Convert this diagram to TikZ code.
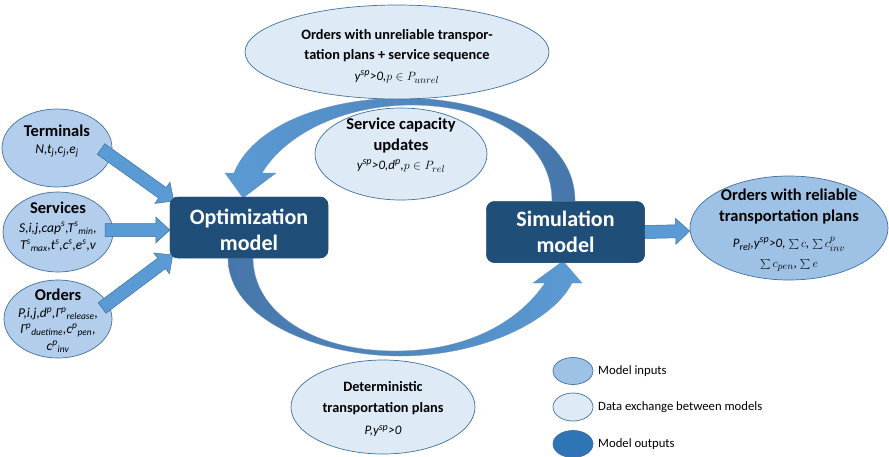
\documentclass[tikz,border=0pt]{standalone}
\usepackage{fontspec}
\setmainfont{Carlito}
\usetikzlibrary{calc,shapes.geometric}
\DeclareMathSizes{13}{13}{10}{8}

\definecolor{navy}{HTML}{1F4E79}
\definecolor{edgeblue}{HTML}{41719C}
\definecolor{inpfill}{HTML}{B2CEEC}
\definecolor{outfill}{HTML}{9EC2E6}
\definecolor{xfill}{HTML}{DEEBF7}
\definecolor{arrowblue}{HTML}{5B9BD5}
\definecolor{arrowdark}{HTML}{4676AA}
\definecolor{legout}{HTML}{2E75B6}

\newcommand\blkarrow[2]{%
  \coordinate (hb) at ($(#2)!14pt!(#1)$);
  \fill[arrowblue, draw=edgeblue, line width=0.5pt]
    ($(#1)!6.5pt!90:(#2)$) -- ($(hb)!6.5pt!90:(#2)$) -- ($(hb)!13pt!90:(#2)$)
    -- (#2) -- ($(hb)!13pt!-90:(#2)$) -- ($(hb)!6.5pt!-90:(#2)$)
    -- ($(#1)!6.5pt!-90:(#2)$) -- cycle;
}

\tikzset{
  oval/.style={ellipse, draw=edgeblue, line width=0.7pt, inner sep=0pt},
  inoval/.style={oval, fill=inpfill},
  outoval/.style={oval, fill=outfill},
  xoval/.style={oval, fill=xfill},
  modelbox/.style={rectangle, rounded corners=8pt, fill=navy, draw=navy,
    minimum width=158pt, minimum height=61pt, inner sep=0pt},
  modeltxt/.style={text=white, font=\fontsize{22}{26}\selectfont\bfseries, align=center, inner sep=0pt},
  ttl/.style={font=\fontsize{16.5}{21}\selectfont\bfseries, align=center, inner sep=0pt},
  ttlsmall/.style={font=\fontsize{14.3}{20.5}\selectfont\bfseries, align=center, inner sep=0pt},
  frm/.style={font=\fontsize{13}{18}\selectfont\itshape, align=center, inner sep=0pt},
  frmin/.style={font=\fontsize{13.5}{16.5}\selectfont\itshape, align=center, inner sep=0pt},
  legtxt/.style={font=\fontsize{12.7}{15}\selectfont, anchor=west, inner sep=0pt},
}

\begin{document}
\begin{tikzpicture}[x=1pt,y=-1pt]
\useasboundingbox (0,0) rectangle (889,456);

% model boxes (positions)
\node[modelbox] (opt) at (249,227.5) {};
\node[modelbox] (sim) at (565.5,232) {};

% curved arrows
\path[left color=arrowblue, right color=arrowdark, draw=arrowdark!80, line width=0.3pt]
  (575,201) .. controls (575,130) and (480,98) .. (405,98)
  .. controls (320,98) and (252,128) .. (234,173)
  -- (225,173) -- (243,198) -- (276,173) -- (262,173)
  .. controls (285,135) and (340,106) .. (410,105)
  .. controls (490,105) and (552,140) .. (552,201) -- cycle;
\path[left color=arrowdark, right color=arrowblue, draw=arrowdark!80, line width=0.3pt]
  (228,258) .. controls (228,320) and (320,356) .. (400,356)
  .. controls (480,356) and (552,322) .. (572,283)
  -- (582,283) -- (563,261) -- (533,283) -- (545,283)
  .. controls (520,320) and (470,351) .. (395,351)
  .. controls (310,351) and (253,310) .. (253,258) -- cycle;

% ellipses
\node[inoval, minimum width=110pt, minimum height=78pt] (term) at (57,148) {};
\node[inoval, minimum width=110pt, minimum height=80pt] (serv) at (58,232) {};
\node[inoval, minimum width=108pt, minimum height=78pt] (ord) at (58,319) {};
\node[outoval, minimum width=198pt, minimum height=104pt] (rel) at (789,228) {};
\node[xoval, minimum width=304pt, minimum height=94pt] (unrel) at (397,52) {};
\node[xoval, minimum width=172pt, minimum height=92pt] (cap) at (401,154) {};
\node[xoval, minimum width=184pt, minimum height=94pt] (det) at (383,407) {};

% straight arrows
\coordinate (tS) at (101,149);
\coordinate (tE) at ($(opt.west)+(4,-26.5)$);
\coordinate (sS) at (105,230);
\coordinate (sE) at ($(opt.west)+(0,2.5)$);
\coordinate (oS) at (102,308);
\coordinate (oE) at ($(opt.west)+(3,27.5)$);
\coordinate (rS) at (sim.east);
\coordinate (rE) at ($(rel.west)+(0,3)$);
\blkarrow{tS}{tE}
\blkarrow{sS}{sE}
\blkarrow{oS}{oE}
\blkarrow{rS}{rE}

% redraw boxes on top
\node[modelbox] at (opt) {};
\node[modelbox] at (sim) {};
\node[modeltxt] (optT) at (249,229.5) {Optimization\\model};
\node[modeltxt] (simT) at (565.5,231.5) {Simulation\\model};

% texts in ellipses
\node[ttl] (termT) at (57,131) {Terminals};
\node[frmin] (termF) at (57,151) {N,t\textsubscript{j},c\textsubscript{j},e\textsubscript{j}};

\node[ttl] (servT) at (58,208) {Services};
\node[frmin] (servF) at (58,237) {S,i,j,cap\textsuperscript{s},T\textsuperscript{s}\textsubscript{min},\\[1pt]T\textsuperscript{s}\textsubscript{max},t\textsuperscript{s},c\textsuperscript{s},e\textsuperscript{s},v};

\node[ttl] (ordT) at (58,295) {Orders};
\node[frmin] (ordF) at (58,330) {P,i,j,d\textsuperscript{p},Γ\textsuperscript{p}\textsubscript{release},\\Γ\textsuperscript{p}\textsubscript{duetime},c\textsuperscript{p}\textsubscript{pen},\\c\textsuperscript{p}\textsubscript{inv}};

\node[ttl] (relT) at (789,207) {Orders with reliable\\transportation plans};
\node[frm] (relF) at (789,254) {P\textsubscript{rel},y\textsuperscript{sp}>0, $\sum c$, $\sum c^{p}_{inv}$\\[2pt]$\sum c_{pen}$, $\sum e$};

\node[ttlsmall] (unrelT) at (397,45.5) {Orders with unreliable transpor-\\tation plans + service sequence};
\node[frm] (unrelF) at (397,77) {y\textsuperscript{sp}>0,$p\in P_{unrel}$};

\node[ttl] (capT) at (401,136) {Service capacity\\updates};
\node[frm] (capF) at (401,166) {y\textsuperscript{sp}>0,d\textsuperscript{p},$p\in P_{rel}$};

\node[ttlsmall] (detT) at (383,398) {Deterministic\\transportation plans};
\node[frm] (detF) at (383,431) {P,y\textsuperscript{sp}>0};

% legend
\node[oval, fill=outfill, minimum width=40pt, minimum height=27pt] (lg1) at (573,371) {};
\node[oval, fill=xfill, minimum width=40pt, minimum height=28pt] (lg2) at (573,407) {};
\node[oval, fill=legout, minimum width=40pt, minimum height=27pt] (lg3) at (573,444) {};
\node[legtxt] (lg1T) at (598,371) {Model inputs};
\node[legtxt] (lg2T) at (598,407) {Data exchange between models};
\node[legtxt] (lg3T) at (598,444) {Model outputs};
\end{tikzpicture}
\end{document}
